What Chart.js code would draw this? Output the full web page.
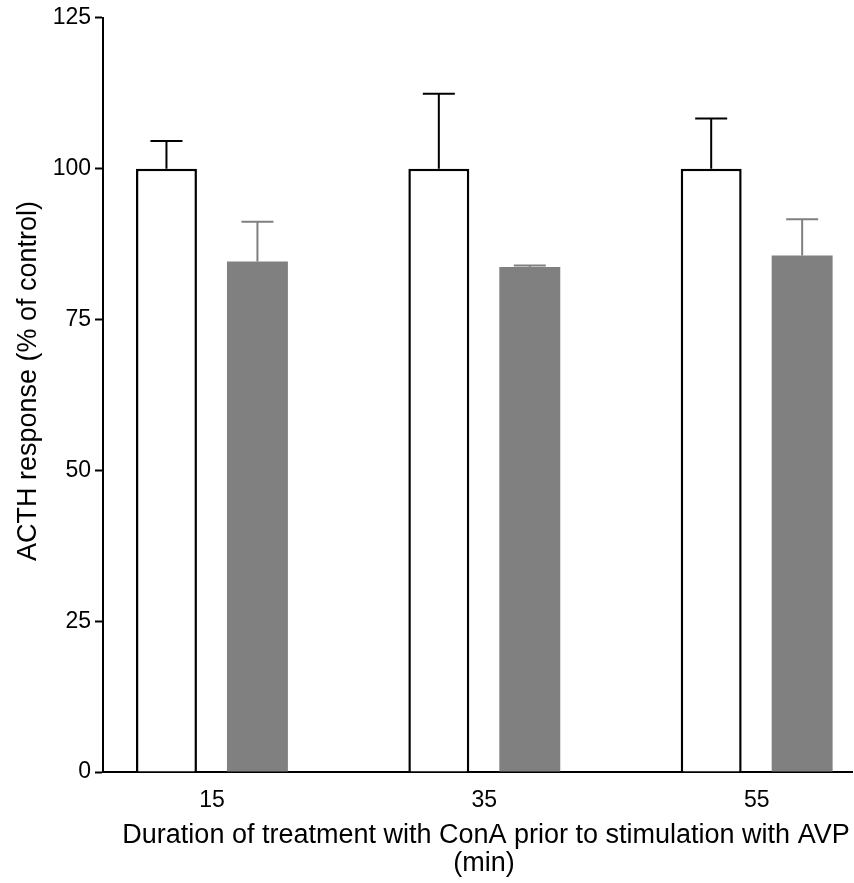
<!DOCTYPE html>
<html>
<head>
<meta charset="utf-8">
<script src="https://cdn.jsdelivr.net/npm/chart.js@4.4.1/dist/chart.umd.min.js"></script>
<style>
  html, body { margin: 0; padding: 0; background: #ffffff; }
  #wrap { width: 854px; height: 883px; }
</style>
</head>
<body>
<div id="wrap"><canvas id="c" width="854" height="883"></canvas></div>
<script>
// Treatment durations (min)
const durations = [15, 35, 55];
// Control group: mean and SEM (% of control)
const controlMean = [100, 100, 100];
const controlSem = [4.6, 12.4, 8.3];
// ConA-treated group: mean and SEM (% of control)
const conaMean = [84.6, 83.7, 85.6];
const conaSem = [6.6, 0.25, 6.0];
// Value axis ticks
const yTicks = [0, 25, 50, 75, 100, 125];

const yTitle = 'ACTH response (% of control)';
const xTitleLines = ['Duration of treatment with ConA prior to stimulation with AVP', '(min)'];

const FONT = '"Liberation Sans", Arial, Helvetica, sans-serif';

// Upward-only error bars drawn on top of each bar
const errorBars = {
  id: 'errorBars',
  afterDatasetsDraw(chart) {
    const { ctx } = chart;
    const y = chart.scales.y;
    chart.data.datasets.forEach((ds, di) => {
      const meta = chart.getDatasetMeta(di);
      ctx.save();
      ctx.strokeStyle = ds.errColor;
      ctx.lineWidth = 2;
      meta.data.forEach((bar, i) => {
        const top = y.getPixelForValue(ds.means[i] + ds.sems[i]);
        const base = y.getPixelForValue(ds.means[i]);
        ctx.beginPath();
        ctx.moveTo(bar.x, base);
        ctx.lineTo(bar.x, top);
        ctx.moveTo(bar.x - 16, top);
        ctx.lineTo(bar.x + 16, top);
        ctx.stroke();
      });
      ctx.restore();
    });
  }
};

// Axis titles
const axisTitles = {
  id: 'axisTitles',
  afterDraw(chart) {
    const { ctx } = chart;
    ctx.save();
    ctx.fillStyle = '#000';
    ctx.font = '27px ' + FONT;
    ctx.textAlign = 'center';
    ctx.textBaseline = 'alphabetic';
    ctx.fillText(xTitleLines[0], 486, 843);
    ctx.fillText(xTitleLines[1], 484, 871);
    ctx.translate(36, 381);
    ctx.rotate(-Math.PI / 2);
    ctx.fillText(yTitle, 0, 0);
    ctx.restore();
  }
};

new Chart(document.getElementById('c'), {
  type: 'bar',
  data: {
    datasets: [
      {
        label: 'Control',
        data: durations.map((d, i) => ({ x: d, y: controlMean[i] })),
        means: controlMean,
        sems: controlSem,
        errColor: '#000000',
        backgroundColor: '#ffffff',
        borderColor: '#000000',
        borderWidth: 2.5,
        borderSkipped: 'start'
      },
      {
        label: 'ConA',
        data: durations.map((d, i) => ({ x: d, y: conaMean[i] })),
        means: conaMean,
        sems: conaSem,
        errColor: '#808080',
        backgroundColor: '#808080',
        borderWidth: 0
      }
    ]
  },
  options: {
    responsive: false,
    animation: false,
    devicePixelRatio: 1,
    categoryPercentage: 0.668,
    barPercentage: 0.67,
    layout: { padding: { top: 17, right: 2, left: 0, bottom: 0 } },
    plugins: { legend: { display: false }, tooltip: { enabled: false } },
    scales: {
      x: {
        type: 'linear',
        offset: false,
        min: 7,
        max: 62,
        afterBuildTicks(scale) { scale.ticks = durations.map(v => ({ value: v })); },
        afterFit(scale) { scale.height = 111; },
        border: { display: true, color: '#000', width: 2 },
        grid: { display: false, offset: false },
        ticks: {
          color: '#000',
          font: { family: FONT, size: 23 },
          padding: 7,
          maxRotation: 0,
          autoSkip: false
        }
      },
      y: {
        min: 0,
        max: 125,
        afterBuildTicks(scale) { scale.ticks = yTicks.map(v => ({ value: v })); },
        afterFit(scale) { scale.width = 103; },
        border: { display: true, color: '#000', width: 2 },
        grid: {
          display: true,
          drawOnChartArea: false,
          drawTicks: true,
          tickLength: 8,
          tickWidth: 2,
          tickColor: '#000'
        },
        ticks: {
          color: '#000',
          font: { family: FONT, size: 23 },
          padding: 4
        }
      }
    }
  },
  plugins: [errorBars, axisTitles]
});
</script>
</body>
</html>
